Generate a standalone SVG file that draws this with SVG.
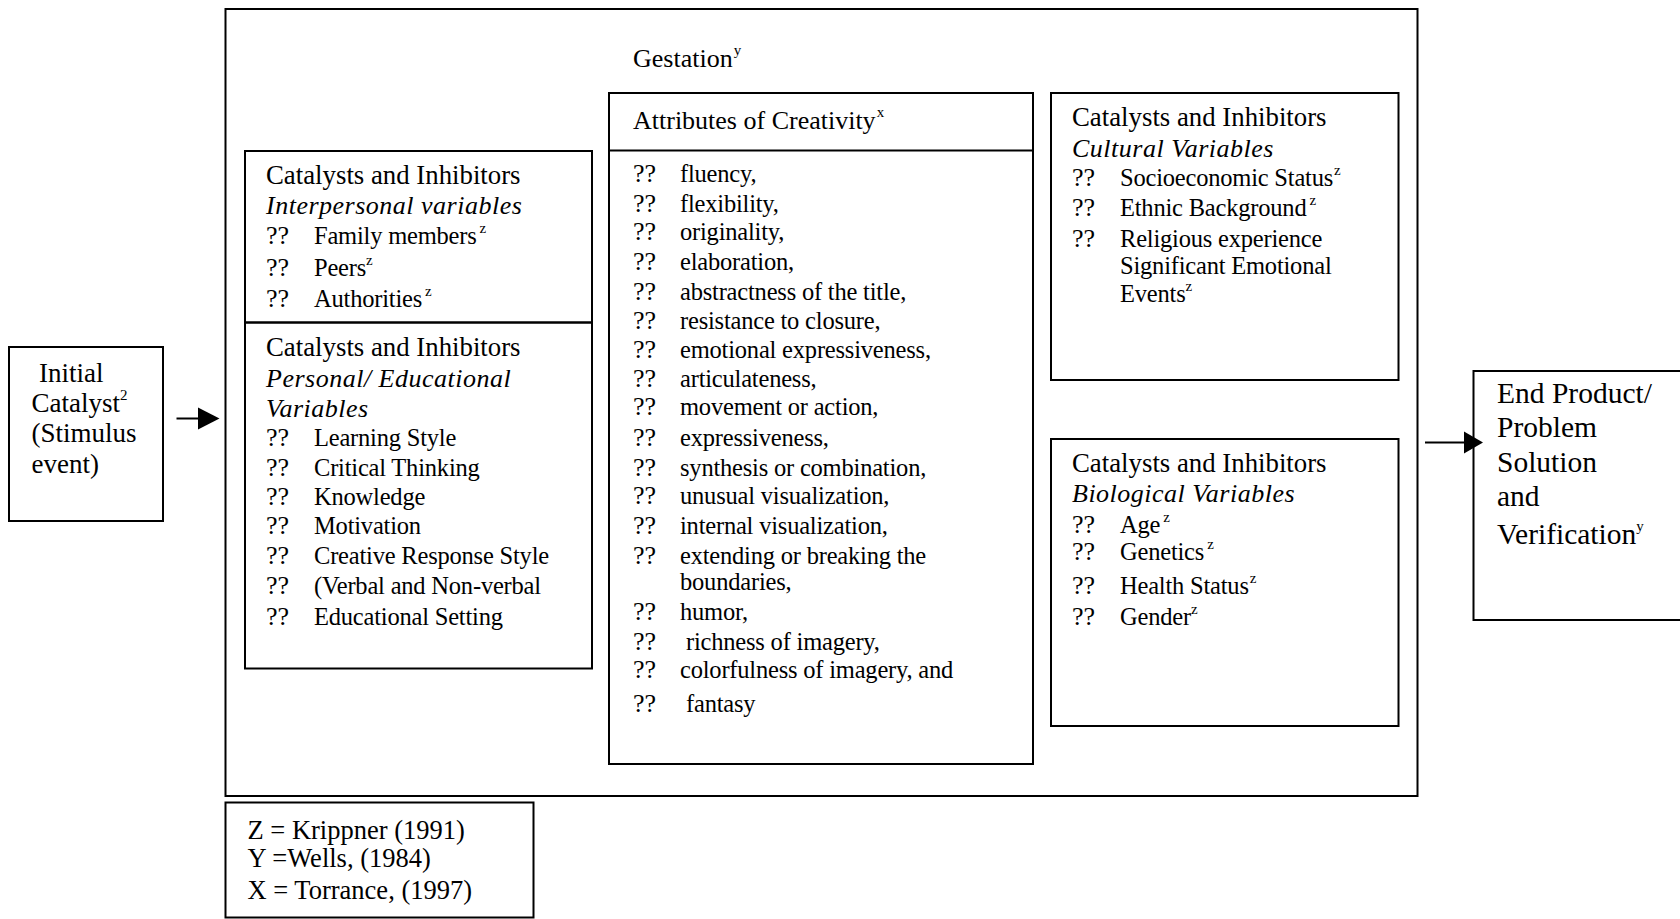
<svg xmlns="http://www.w3.org/2000/svg" width="1680" height="919" viewBox="0 0 1680 919">
<style>
  .box { fill: none; stroke: #000; stroke-width: 2; }
  text { font-family: "Liberation Serif", "Times New Roman", serif; font-size: 26px; fill: #000; }
  .h { font-size: 26.8px; }
  .it { font-style: italic; letter-spacing: 0.5px; }
  .li { font-size: 24.5px; letter-spacing: -0.2px; }
  .big { font-size: 29.5px; }
  .ic { font-size: 27px; }
  .lg { font-size: 26.5px; }
  .sup { font-size: 15px; letter-spacing: 0; }
  .conn { stroke: #000; stroke-width: 2; fill: none; }
  .head { fill: #000; stroke: none; }
</style>
<rect width="1680" height="919" fill="#fff"/>

<g id="gestation">
  <rect class="box" x="225.5" y="9" width="1192" height="787"/>
  <text x="633" y="67" font-size="27">Gestation<tspan class="sup" dx="1" dy="-12">y</tspan></text>
</g>

<g id="initial-catalyst">
  <rect class="box" x="9" y="347" width="154" height="174"/>
  <text class="ic" x="39" y="382">Initial</text>
  <text class="ic" x="31.5" y="412">Catalyst<tspan class="sup" dy="-12">2</tspan></text>
  <text class="ic" x="31.5" y="442">(Stimulus</text>
  <text class="ic" x="31.5" y="473">event)</text>
</g>

<g id="interpersonal">
  <rect class="box" x="245" y="151" width="347" height="171.5"/>
  <text class="h" x="266" y="184">Catalysts and Inhibitors</text>
  <text class="it" x="266" y="213.5">Interpersonal variables</text>
  <text x="266" y="244">??</text><text class="li" x="314" y="244">Family members<tspan class="sup" dx="3" dy="-11">z</tspan></text>
  <text x="266" y="276">??</text><text class="li" x="314" y="276">Peers<tspan class="sup" dy="-11">z</tspan></text>
  <text x="266" y="307">??</text><text class="li" x="314" y="307">Authorities<tspan class="sup" dx="3" dy="-11">z</tspan></text>
</g>

<g id="personal-educational">
  <rect class="box" x="245" y="322.5" width="347" height="346"/>
  <text class="h" x="266" y="356">Catalysts and Inhibitors</text>
  <text class="it" x="266" y="387">Personal/ Educational</text>
  <text class="it" x="266" y="417">Variables</text>
  <text x="266" y="446">??</text><text class="li" x="314" y="446">Learning Style</text>
  <text x="266" y="475.5">??</text><text class="li" x="314" y="475.5">Critical Thinking</text>
  <text x="266" y="505">??</text><text class="li" x="314" y="505">Knowledge</text>
  <text x="266" y="533.5">??</text><text class="li" x="314" y="533.5">Motivation</text>
  <text x="266" y="564">??</text><text class="li" x="314" y="564">Creative Response Style</text>
  <text x="266" y="593.5">??</text><text class="li" x="314" y="593.5">(Verbal and Non-verbal</text>
  <text x="266" y="625">??</text><text class="li" x="314" y="625">Educational Setting</text>
</g>

<g id="attributes">
  <rect class="box" x="609" y="93" width="424" height="671"/>
  <line class="box" x1="609" y1="150.5" x2="1033" y2="150.5"/>
  <text x="633" y="128.5" font-size="26.3">Attributes of Creativity<tspan class="sup" dx="1" dy="-12">x</tspan></text>
  <text x="633" y="181.5">??</text><text class="li" x="680" y="181.5">fluency,</text>
  <text x="633" y="211.5">??</text><text class="li" x="680" y="211.5">flexibility,</text>
  <text x="633" y="240">??</text><text class="li" x="680" y="240">originality,</text>
  <text x="633" y="270">??</text><text class="li" x="680" y="270">elaboration,</text>
  <text x="633" y="299.5">??</text><text class="li" x="680" y="299.5">abstractness of the title,</text>
  <text x="633" y="328.5">??</text><text class="li" x="680" y="328.5">resistance to closure,</text>
  <text x="633" y="357.5">??</text><text class="li" x="680" y="357.5">emotional expressiveness,</text>
  <text x="633" y="387">??</text><text class="li" x="680" y="387">articulateness,</text>
  <text x="633" y="415">??</text><text class="li" x="680" y="415">movement or action,</text>
  <text x="633" y="445.5">??</text><text class="li" x="680" y="445.5">expressiveness,</text>
  <text x="633" y="476">??</text><text class="li" x="680" y="476">synthesis or combination,</text>
  <text x="633" y="503.5">??</text><text class="li" x="680" y="503.5">unusual visualization,</text>
  <text x="633" y="533.5">??</text><text class="li" x="680" y="533.5">internal visualization,</text>
  <text x="633" y="563.5">??</text><text class="li" x="680" y="563.5">extending or breaking the</text>
  <text class="li" x="680" y="590">boundaries,</text>
  <text x="633" y="620">??</text><text class="li" x="680" y="620">humor,</text>
  <text x="633" y="650">??</text><text class="li" x="686" y="650">richness of imagery,</text>
  <text x="633" y="677.5">??</text><text class="li" x="680" y="677.5">colorfulness of imagery, and</text>
  <text x="633" y="711.5">??</text><text class="li" x="686" y="711.5">fantasy</text>
</g>

<g id="cultural">
  <rect class="box" x="1051" y="93" width="347.5" height="287"/>
  <text class="h" x="1072" y="125.5">Catalysts and Inhibitors</text>
  <text class="it" x="1072" y="156.5">Cultural Variables</text>
  <text x="1072" y="186">??</text><text class="li" x="1120" y="186">Socioeconomic Status<tspan class="sup" dx="1" dy="-11">z</tspan></text>
  <text x="1072" y="216">??</text><text class="li" x="1120" y="216">Ethnic Background<tspan class="sup" dx="3" dy="-11">z</tspan></text>
  <text x="1072" y="247">??</text><text class="li" x="1120" y="247">Religious experience</text>
  <text class="li" x="1120" y="274">Significant Emotional</text>
  <text class="li" x="1120" y="301.5">Events<tspan class="sup" dy="-11">z</tspan></text>
</g>

<g id="biological">
  <rect class="box" x="1051" y="439" width="347.5" height="287"/>
  <text class="h" x="1072" y="472">Catalysts and Inhibitors</text>
  <text class="it" x="1072" y="501.5">Biological Variables</text>
  <text x="1072" y="532.5">??</text><text class="li" x="1120" y="532.5">Age<tspan class="sup" dx="3" dy="-11">z</tspan></text>
  <text x="1072" y="560">??</text><text class="li" x="1120" y="560">Genetics<tspan class="sup" dx="3" dy="-11">z</tspan></text>
  <text x="1072" y="594">??</text><text class="li" x="1120" y="594">Health Status<tspan class="sup" dx="1" dy="-11">z</tspan></text>
  <text x="1072" y="625">??</text><text class="li" x="1120" y="625">Gender<tspan class="sup" dy="-11">z</tspan></text>
</g>

<g id="end-product">
  <rect class="box" x="1473.5" y="371" width="230" height="249"/>
  <text class="big" x="1497" y="402.5">End Product/</text>
  <text class="big" x="1497" y="436.5">Problem</text>
  <text class="big" x="1497" y="471.5">Solution</text>
  <text class="big" x="1497" y="505.5">and</text>
  <text class="big" x="1497" y="544">Verification<tspan class="sup" dy="-13">y</tspan></text>
</g>

<g id="legend">
  <rect class="box" x="225.5" y="802.5" width="308" height="115"/>
  <text class="lg" x="247.5" y="838.5">Z = Krippner (1991)</text>
  <text class="lg" x="247.5" y="867">Y =Wells, (1984)</text>
  <text class="lg" x="247.5" y="898.5">X = Torrance, (1997)</text>
</g>

<g id="connectors">
  <line class="conn" x1="176.5" y1="418.5" x2="200" y2="418.5"/>
  <polygon class="head" points="198,407.5 219.5,418.5 198,429.5"/>
  <line class="conn" x1="1425" y1="442.5" x2="1466" y2="442.5"/>
  <polygon class="head" points="1464,431.5 1483,442.5 1464,453.5"/>
</g>
</svg>
